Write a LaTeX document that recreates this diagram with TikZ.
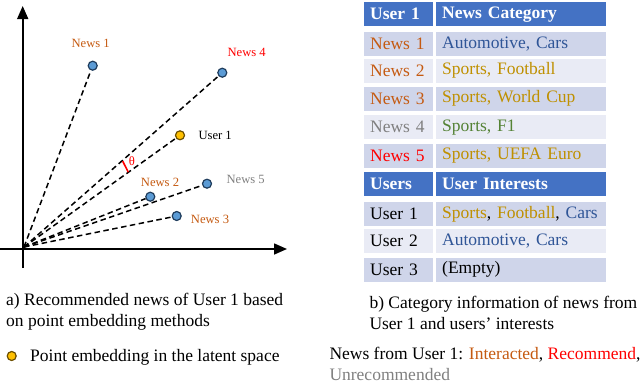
\documentclass[tikz,border=0pt]{standalone}
\usepackage{fontspec}
\setmainfont{Liberation Serif}
\usepackage{xcolor}
\usepackage{tikz}
\usetikzlibrary{arrows.meta,positioning,calc}
\definecolor{hdblue}{HTML}{4472C4}
\definecolor{rowdark}{HTML}{CFD5EA}
\definecolor{rowlight}{HTML}{E9EBF5}
\definecolor{rust}{HTML}{C55A11}
\definecolor{steel}{HTML}{2F5597}
\definecolor{mustard}{HTML}{BF9000}
\definecolor{leaf}{HTML}{548235}
\definecolor{ash}{HTML}{808080}
\definecolor{dotblue}{HTML}{5B9BD5}
\definecolor{dotrim}{HTML}{1F3C5C}
\definecolor{amber}{HTML}{FFC000}
\definecolor{amberrim}{HTML}{6B4E00}
\newcommand{\txtbig}{\fontsize{17.5}{21}\selectfont}
\newcommand{\txtsmall}{\fontsize{12.6}{15}\selectfont}

\begin{document}
\begin{tikzpicture}[
  x=1pt,y=-1pt,
  axis/.style={line width=1.6pt,-{Triangle[length=13pt,width=11pt]}},
  ray/.style={line width=1.5pt,dash pattern=on 5.5pt off 3.5pt},
  news/.style={circle,draw=dotrim,fill=dotblue,line width=1.2pt,inner sep=0pt,minimum size=9pt},
  usr/.style={news,draw=amberrim,fill=amber},
  lbl/.style={font=\txtsmall,inner sep=0pt},
  cell/.style={anchor=north west,minimum height=24pt,inner xsep=6pt,inner ysep=0pt,align=left,font=\txtbig},
  c1/.style={cell,text width=57pt},
  c2/.style={cell,text width=158pt},
  hd/.style={fill=hdblue,text=white,font=\txtbig\bfseries},
  dk/.style={fill=rowdark},
  lt/.style={fill=rowlight},
  note/.style={anchor=west,align=left,inner sep=0pt,font=\txtbig}
]
\useasboundingbox (0,0) rectangle (640,383);

% axes
\coordinate (xl) at (0,249);
\coordinate (xr) at (287,249);
\coordinate (yb) at (22.7,268);
\coordinate (yt) at (22.7,6);
\coordinate (O) at (24,247);
\draw[axis] (xl) -- (xr);
\draw[axis] (yb) -- (yt);

% embeddings
\node[news] (n1) at (92.7,65.7) {};
\node[news] (n4) at (222.3,72.7) {};
\node[usr] (u1) at (180,135.3) {};
\node[news] (n5) at (207,183.7) {};
\node[news] (n2) at (150.3,196.7) {};
\node[news] (n3) at (176.7,216) {};
\foreach \p in {n1,n4,u1,n5,n2,n3}
  \draw[ray] (O) -- (\p);

\node[lbl,text=rust] (l1) at (90.7,43.3) {News 1};
\node[lbl,text=red] (l4) at (246.7,52.7) {News 4};
\node[lbl,anchor=west] (lu) at (198.3,135) {User 1};
\node[lbl,text=ash] (l5) at (245.7,179) {News 5};
\node[lbl,text=rust] (l2) at (160,182.3) {News 2};
\node[lbl,text=rust] (l3) at (210,219.3) {News 3};

% angle mark
\coordinate (t1) at (122.7,161.2);
\coordinate (t2) at (128.3,172.2);
\draw[red,line width=1.6pt] (t1) -- (t2);
\node[lbl,text=red] (th) at (132,161.5) {θ};

% table: news of user 1
\node[c1,hd] (h1a) at (364,2) {User 1};
\node[c2,hd] (h1b) at (436,2) {News Category};
\node[c1,dk,text=rust] (r1a) at (364,32) {News 1};
\node[c2,dk,text=steel] (r1b) at (436,32) {Automotive, Cars};
\node[c1,lt,text=rust] (r2a) at (364,58.5) {News 2};
\node[c2,lt,text=mustard] (r2b) at (436,58.5) {Sports, Football};
\node[c1,dk,text=rust] (r3a) at (364,86.5) {News 3};
\node[c2,dk,text=mustard] (r3b) at (436,86.5) {Sports, World Cup};
\node[c1,lt,text=ash] (r4a) at (364,115) {News 4};
\node[c2,lt,text=leaf] (r4b) at (436,115) {Sports, F1};
\node[c1,dk,text=red] (r5a) at (364,143.5) {News 5};
\node[c2,dk,text=mustard] (r5b) at (436,143.5) {Sports, UEFA Euro};

% table: user interests
\node[c1,hd] (h2a) at (364,172) {Users};
\node[c2,hd] (h2b) at (436,172) {User Interests};
\node[c1,dk] (s1a) at (364,202) {User 1};
\node[c2,dk] (s1b) at (436,202) {\textcolor{mustard}{Sports}, \textcolor{mustard}{Football}, \textcolor{steel}{Cars}};
\node[c1,lt] (s2a) at (364,229) {User 2};
\node[c2,lt,text=steel] (s2b) at (436,229) {Automotive, Cars};
\node[c1,dk] (s3a) at (364,257.5) {User 3};
\node[c2,dk] (s3b) at (436,257.5) {(Empty)};

% captions
\node[note] (capa) at (6,312.2) {a) Recommended news of User 1 based\\on point embedding methods};
\node[usr] (key) at (11.7,356) {};
\node[note] (keytxt) at (30,357) {Point embedding in the latent space};
\node[note] (capb) at (369.3,312.7) {b) Category information of news from\\User 1 and users’ interests};
\node[note] (legb) at (329.3,364) {News from User 1: \textcolor{rust}{Interacted}, \textcolor{red}{Recommend},\\\textcolor{ash}{Unrecommended}};
\end{tikzpicture}
\end{document}
